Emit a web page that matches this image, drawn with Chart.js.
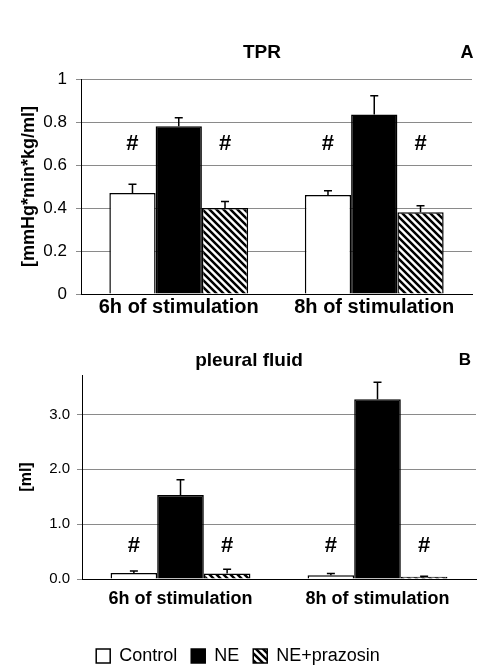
<!DOCTYPE html>
<html>
<head>
<meta charset="utf-8">
<script src="https://cdn.jsdelivr.net/npm/chart.js@4/dist/chart.umd.min.js"></script>
<style>
  html, body { margin: 0; padding: 0; background: #fff; overflow: hidden; }
  #wrap { position: relative; width: 477px; height: 665px; overflow: hidden; }
  #wrap canvas { position: absolute; left: 0; }
  .lbl {
    position: absolute;
    transform: translate(-50%, -50%);
    font-family: "Liberation Sans", Arial, sans-serif;
    font-weight: bold;
    font-size: 19px;
    color: #000;
    white-space: nowrap;
  }
</style>
</head>
<body>
<div id="wrap">
  <canvas id="tpr" width="477" height="330" style="top:0"></canvas>
  <canvas id="fluid" width="477" height="350" style="top:330px"></canvas>
  <div class="lbl" style="left:262px;top:52px">TPR</div>
  <div class="lbl" style="left:467px;top:52px;font-size:18px">A</div>
  <div class="lbl" style="left:249px;top:360px">pleural fluid</div>
  <div class="lbl" style="left:465px;top:360px;font-size:17px">B</div>
</div>
<script>
const groups = ['6h of stimulation', '8h of stimulation'];
const seriesNames = ['Control', 'NE', 'NE+prazosin'];

// panel A: TPR [mmHg*min*kg/ml]
const tprControl = [0.47, 0.46];
const tprNE = [0.78, 0.835];
const tprPrazosin = [0.40, 0.38];
const tprControlErr = [0.04, 0.02];
const tprNEErr = [0.04, 0.087];
const tprPrazosinErr = [0.03, 0.03];
const tprTicks = [0, 0.2, 0.4, 0.6, 0.8, 1];

// panel B: pleural fluid [ml]
const fluidControl = [0.11, 0.07];
const fluidNE = [1.53, 3.28];
const fluidPrazosin = [0.10, 0.04];
const fluidControlErr = [0.035, 0.03];
const fluidNEErr = [0.28, 0.31];
const fluidPrazosinErr = [0.08, 0.01];
const fluidTicks = [0, 1, 2, 3];

// '#' marks (significance) over these series, at this value
const hashSeries = ['Control', 'NE+prazosin'];
const tprHashLevel = 0.70;
const fluidHashLevel = 0.60;

const FONT = '"Liberation Sans", Arial, sans-serif';

function stripes() {
  const s = 7;
  const c = document.createElement('canvas');
  c.width = s; c.height = s;
  const g = c.getContext('2d');
  g.fillStyle = '#fff';
  g.fillRect(0, 0, s, s);
  g.strokeStyle = '#000';
  g.lineWidth = 2.5;
  g.beginPath();
  g.moveTo(-2, -2); g.lineTo(s + 2, s + 2);
  g.moveTo(-2, s - 2); g.lineTo(2, s + 2);
  g.moveTo(s - 2, -2); g.lineTo(s + 2, 2);
  g.stroke();
  return g.createPattern(c, 'repeat');
}
const hatch = stripes();

// error bars (upper only) and # marks
const extras = {
  id: 'extras',
  afterDatasetsDraw(chart, args, opts) {
    const ctx = chart.ctx;
    const y = chart.scales.y;
    ctx.save();
    chart.data.datasets.forEach((ds, i) => {
      const meta = chart.getDatasetMeta(i);
      meta.data.forEach((bar, j) => {
        const top = y.getPixelForValue(ds.data[j]);
        const end = y.getPixelForValue(ds.data[j] + ds.errors[j]);
        ctx.strokeStyle = '#000';
        ctx.lineWidth = 1.5;
        ctx.beginPath();
        ctx.moveTo(bar.x, top);
        ctx.lineTo(bar.x, end);
        ctx.moveTo(bar.x - 4, end);
        ctx.lineTo(bar.x + 4, end);
        ctx.stroke();
        if (hashSeries.includes(ds.label)) {
          ctx.fillStyle = '#000';
          ctx.font = 'bold 22px ' + FONT;
          ctx.textAlign = 'center';
          ctx.textBaseline = 'middle';
          ctx.fillText('#', bar.x, y.getPixelForValue(opts.hashLevel));
        }
      });
    });
    ctx.restore();
  }
};

function makeDatasets(ctrl, ne, praz, ctrlErr, neErr, prazErr) {
  const common = { borderColor: '#000', borderWidth: 1.5, categoryPercentage: 0.71, barPercentage: 1.0 };
  return [
    Object.assign({ label: seriesNames[0], data: ctrl, errors: ctrlErr, backgroundColor: '#fff' }, common),
    Object.assign({ label: seriesNames[1], data: ne, errors: neErr, backgroundColor: '#000' }, common),
    Object.assign({ label: seriesNames[2], data: praz, errors: prazErr, backgroundColor: hatch }, common)
  ];
}

function makeChart(id, cfg) {
  return new Chart(document.getElementById(id), {
    type: 'bar',
    data: { labels: groups, datasets: cfg.datasets },
    plugins: [extras],
    options: {
      responsive: false,
      animation: false,
      layout: { padding: cfg.padding },
      plugins: {
        legend: cfg.legend,
        tooltip: { enabled: false },
        extras: { hashLevel: cfg.hashLevel }
      },
      scales: {
        x: {
          grid: { display: false, drawTicks: false },
          border: { display: true, color: '#000', width: 1 },
          ticks: { color: '#000', padding: cfg.xPad, font: { family: FONT, size: cfg.xFont, weight: 'bold' } },
          afterFit: s => { s.height = cfg.xHeight; }
        },
        y: {
          min: 0,
          max: cfg.max,
          afterBuildTicks: s => { s.ticks = cfg.ticks.map(v => ({ value: v })); },
          grid: { color: '#8a8a8a', lineWidth: 1, tickLength: 5 },
          border: { display: true, color: '#000', width: 1 },
          ticks: {
            color: '#000',
            padding: cfg.yPad,
            font: { family: FONT, size: cfg.yFont },
            callback: cfg.fmt
          },
          title: {
            display: true,
            text: cfg.yTitle,
            color: '#000',
            padding: { top: cfg.titlePad, bottom: 0 },
            font: { family: FONT, size: cfg.titleFont, weight: 'bold' }
          },
          afterFit: s => { s.width = cfg.yWidth; }
        }
      }
    }
  });
}

makeChart('tpr', {
  datasets: makeDatasets(tprControl, tprNE, tprPrazosin, tprControlErr, tprNEErr, tprPrazosinErr),
  padding: { top: 79, right: 5, bottom: 0, left: 0 },
  legend: { display: false },
  hashLevel: tprHashLevel,
  max: 1,
  ticks: tprTicks,
  fmt: v => String(v),
  yTitle: '[mmHg*min*kg/ml]',
  titleFont: 18,
  titlePad: 18,
  yFont: 17,
  yPad: 9,
  yWidth: 81,
  xFont: 20,
  xPad: 1,
  xHeight: 36
});

makeChart('fluid', {
  datasets: makeDatasets(fluidControl, fluidNE, fluidPrazosin, fluidControlErr, fluidNEErr, fluidPrazosinErr),
  padding: { top: 45, right: 1, bottom: 5, left: 0 },
  legend: {
    position: 'bottom',
    labels: {
      color: '#000',
      boxWidth: 14,
      boxHeight: 14,
      padding: 14,
      font: { family: FONT, size: 18 }
    }
  },
  hashLevel: fluidHashLevel,
  max: 3.72,
  ticks: fluidTicks,
  fmt: v => v.toFixed(1),
  yTitle: '[ml]',
  titleFont: 16,
  titlePad: 17,
  yFont: 15,
  yPad: 7,
  yWidth: 82,
  xFont: 18,
  xPad: 9,
  xHeight: 54
});
</script>
</body>
</html>
